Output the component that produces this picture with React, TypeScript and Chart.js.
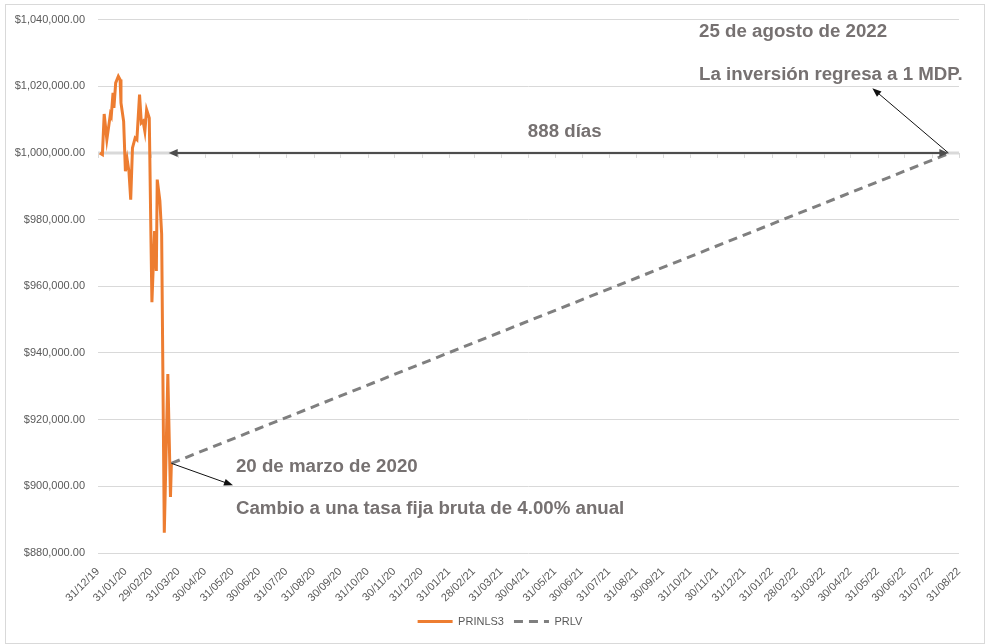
import React, { useEffect, useRef } from "react";
import { Chart, registerables } from "chart.js";

Chart.register(...registerables);

// ---- Data ----
const monthLabels = [
  "31/12/19", "31/01/20", "29/02/20", "31/03/20", "30/04/20", "31/05/20", "30/06/20",
  "31/07/20", "31/08/20", "30/09/20", "31/10/20", "30/11/20", "31/12/20", "31/01/21",
  "28/02/21", "31/03/21", "30/04/21", "31/05/21", "30/06/21", "31/07/21", "31/08/21",
  "30/09/21", "31/10/21", "30/11/21", "31/12/21", "31/01/22", "28/02/22", "31/03/22",
  "30/04/22", "31/05/22", "30/06/22", "31/07/22", "31/08/22",
];

const yTickValues = [880000, 900000, 920000, 940000, 960000, 980000, 1000000, 1020000, 1040000];

// PRINLS3: days since 31/12/19 and values
const prinlsDays = [
  2, 5, 7, 10, 14, 15, 17, 18, 20, 23, 25, 26, 29, 31, 33, 35, 37, 39, 42, 44,
  47, 49, 51, 53, 55, 58, 60, 61, 64, 66, 67, 70, 72, 75, 79, 82, 83,
];
const prinlsValues = [
  1000000, 999500, 1011700, 1004000, 1011600, 1011000, 1018000, 1013500, 1021000, 1023000,
  1022000, 1015000, 1009500, 994500, 998000, 994500, 986000, 1001500, 1004500, 1004000,
  1017500, 1009000, 1009500, 1006500, 1013000, 1010500, 972600, 955200, 976600, 964600,
  992000, 985600, 975700, 886100, 933700, 896800, 906800,
];

// PRLV: dates and values
const prlvDates = ["23/03/20", "21/08/22"];
const prlvValues = [906900, 1000000];

const baseValue = 1000000;

// Annotations (day offset / value positions)
const arrowSpanDays = [80, 962];

const FONT = "'Liberation Sans', Arial, Helvetica, sans-serif";
const TEXT_GRAY = "#767171";

function dayOf(s: string): number {
  const [d, m, y] = s.split("/").map(Number);
  return (Date.UTC(2000 + y, m - 1, d) - Date.UTC(2019, 11, 31)) / 86400000;
}

function fmtMoney(v: number): string {
  const s = Math.round(v).toString().replace(/\B(?=(\d{3})+(?!\d))/g, ",");
  return "$" + s + ".00";
}

function drawArrow(
  ctx: CanvasRenderingContext2D,
  x1: number, y1: number, x2: number, y2: number,
  color: string, width: number, headLen: number, headW: number,
  startHead: boolean, endHead: boolean
) {
  const ang = Math.atan2(y2 - y1, x2 - x1);
  const cos = Math.cos(ang), sin = Math.sin(ang);
  ctx.save();
  ctx.strokeStyle = color;
  ctx.fillStyle = color;
  ctx.lineWidth = width;
  ctx.setLineDash([]);
  ctx.beginPath();
  const sx = startHead ? x1 + cos * headLen * 0.8 : x1;
  const sy = startHead ? y1 + sin * headLen * 0.8 : y1;
  const ex = endHead ? x2 - cos * headLen * 0.8 : x2;
  const ey = endHead ? y2 - sin * headLen * 0.8 : y2;
  ctx.moveTo(sx, sy);
  ctx.lineTo(ex, ey);
  ctx.stroke();
  const head = (tx: number, ty: number, dx: number, dy: number) => {
    ctx.beginPath();
    ctx.moveTo(tx, ty);
    ctx.lineTo(tx - dx * headLen - dy * headW / 2, ty - dy * headLen + dx * headW / 2);
    ctx.lineTo(tx - dx * headLen + dy * headW / 2, ty - dy * headLen - dx * headW / 2);
    ctx.closePath();
    ctx.fill();
  };
  if (endHead) head(x2, y2, cos, sin);
  if (startHead) head(x1, y1, -cos, -sin);
  ctx.restore();
}

const annotationPlugin = {
  id: "annotations",
  beforeDatasetsDraw(chart: any) {
    const { ctx, chartArea, scales } = chart;
    const y = scales.y.getPixelForValue(baseValue);
    ctx.save();
    ctx.strokeStyle = "#d9d9d9";
    ctx.lineWidth = 3;
    ctx.beginPath();
    ctx.moveTo(chartArea.left, y);
    ctx.lineTo(chartArea.right, y);
    ctx.stroke();
    ctx.lineWidth = 1;
    ctx.beginPath();
    monthLabels.forEach((l) => {
      const x = Math.round(scales.x.getPixelForValue(dayOf(l))) + 0.5;
      ctx.moveTo(x, y);
      ctx.lineTo(x, y + 5);
    });
    ctx.stroke();
    ctx.restore();
  },
  afterDatasetsDraw(chart: any) {
    const { ctx, scales } = chart;
    const xs = scales.x, ys = scales.y;
    const yBase = ys.getPixelForValue(baseValue);
    const xL = xs.getPixelForValue(arrowSpanDays[0]);
    const xR = xs.getPixelForValue(arrowSpanDays[1]);
    // 888 días double arrow
    drawArrow(ctx, xL, yBase, xR, yBase, "#4d4d4d", 2, 9, 8, true, true);
    // arrow to upper text
    drawArrow(ctx, xR, yBase, xs.getPixelForValue(876), ys.getPixelForValue(1019400), "#111", 1, 9, 7, false, true);
    // arrow to lower text
    const x0 = xs.getPixelForValue(dayOf(prlvDates[0]));
    const y0 = ys.getPixelForValue(prlvValues[0]);
    drawArrow(ctx, x0, y0, xs.getPixelForValue(152.7), ys.getPixelForValue(900300), "#111", 1, 9, 7, false, true);

    ctx.save();
    ctx.fillStyle = TEXT_GRAY;
    ctx.font = `bold 18.7px ${FONT}`;
    ctx.textBaseline = "middle";
    ctx.textAlign = "left";
    ctx.fillText("25 de agosto de 2022", xs.getPixelForValue(680), ys.getPixelForValue(1036200));
    ctx.fillText("La inversión regresa a 1 MDP.", xs.getPixelForValue(680), ys.getPixelForValue(1023300));
    ctx.fillText("20 de marzo de 2020", xs.getPixelForValue(156), ys.getPixelForValue(905900));
    ctx.fillText("Cambio a una tasa fija bruta de 4.00% anual", xs.getPixelForValue(156), ys.getPixelForValue(893100));
    ctx.textAlign = "center";
    ctx.fillText("888 días", xs.getPixelForValue(528), ys.getPixelForValue(1006200));
    ctx.restore();
  },
};

export default function App() {
  const ref = useRef<HTMLCanvasElement | null>(null);

  useEffect(() => {
    if (!ref.current) return;
    const chart = new Chart(ref.current, {
      type: "line",
      data: {
        datasets: [
          {
            label: "PRINLS3",
            data: prinlsDays.map((d, i) => ({ x: d, y: prinlsValues[i] })),
            borderColor: "#ED7D31",
            backgroundColor: "#ED7D31",
            borderWidth: 3,
            pointRadius: 0,
            tension: 0,
            fill: false,
          },
          {
            label: "PRLV",
            data: prlvDates.map((d, i) => ({ x: dayOf(d), y: prlvValues[i] })),
            borderColor: "#7F7F7F",
            backgroundColor: "#7F7F7F",
            borderWidth: 3,
            borderDash: [9, 6],
            pointRadius: 0,
            tension: 0,
            fill: false,
          },
        ],
      },
      options: {
        responsive: false,
        animation: false,
        devicePixelRatio: 1,
        layout: { padding: { left: 0, right: 0, top: 18, bottom: 7 } },
        plugins: {
          tooltip: { enabled: false },
          legend: {
            position: "bottom",
            labels: {
              usePointStyle: true,
              pointStyleWidth: 35,
              padding: 10,
              color: "#595959",
              font: { size: 11, family: FONT },
              generateLabels: (c: any) =>
                c.data.datasets.map((ds: any, i: number) => ({
                  text: ds.label,
                  strokeStyle: ds.borderColor,
                  fillStyle: ds.borderColor,
                  fontColor: "#595959",
                  lineWidth: 3,
                  lineDash: ds.borderDash || [],
                  pointStyle: "line",
                  hidden: false,
                  datasetIndex: i,
                })),
            },
          },
        },
        scales: {
          x: {
            type: "linear",
            min: 0,
            max: dayOf(monthLabels[monthLabels.length - 1]),
            afterBuildTicks: (s: any) => {
              s.ticks = monthLabels.map((l) => ({ value: dayOf(l) }));
            },
            afterFit: (s: any) => {
              s.height = 53;
            },
            ticks: {
              autoSkip: false,
              maxRotation: 45,
              minRotation: 45,
              padding: 4,
              color: "#595959",
              font: { size: 11, family: FONT },
              callback: (_v: any, i: number) => monthLabels[i],
            },
            grid: { display: false },
            border: { display: false },
          },
          y: {
            min: 880000,
            max: 1040000,
            afterBuildTicks: (s: any) => {
              s.ticks = yTickValues.map((v) => ({ value: v }));
            },
            afterFit: (s: any) => {
              s.width = 84;
            },
            ticks: {
              padding: 13,
              color: "#595959",
              font: { size: 11, family: FONT },
              callback: (v: any) => fmtMoney(Number(v)),
            },
            grid: { color: "#d9d9d9", drawTicks: false, lineWidth: 1 },
            border: { display: false },
          },
          y2: {
            position: "right",
            display: true,
            min: 0,
            max: 1,
            ticks: { display: false },
            grid: { display: false },
            border: { display: false },
            afterFit: (s: any) => {
              s.width = 27;
            },
          },
        },
      },
      plugins: [annotationPlugin],
    } as any);
    return () => chart.destroy();
  }, []);

  return (
    <div style={{ position: "absolute", left: 0, top: 0, width: 986, height: 644, background: "#fff" }}>
      <div
        style={{
          position: "absolute",
          left: 5,
          top: 4,
          width: 980,
          height: 640,
          border: "1px solid #d9d9d9",
          boxSizing: "border-box",
        }}
      />
      <canvas ref={ref} width={972} height={644} style={{ position: "absolute", left: 14, top: 0 }} />
    </div>
  );
}
